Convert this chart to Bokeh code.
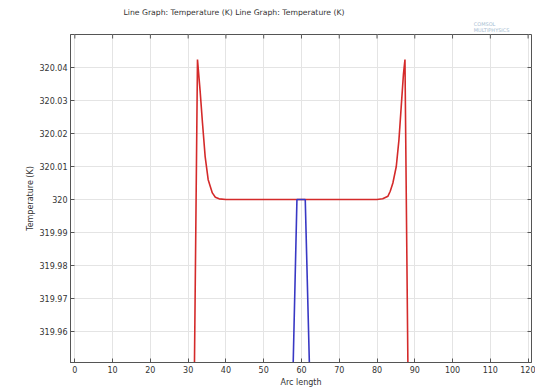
import math
from bokeh.plotting import figure
from bokeh.models import Range1d, FixedTicker, CustomJSTickFormatter, Title
from bokeh.embed import file_html
from bokeh.resources import INLINE

# Data
red_x = [31.0, 32.47, 33.16, 33.8, 34.5, 35.3, 36.4, 37.2, 38.2, 40.0, 50.0, 60.0, 70.0, 80.0,
         81.5, 82.9, 83.5, 84.2, 85.1, 85.8, 86.4, 87.0, 87.4, 89.0]
red_y = [319.873, 320.0424, 320.033, 320.0231, 320.013, 320.006, 320.002, 320.0007, 320.0002,
         320.0, 320.0, 320.0, 320.0, 320.0,
         320.0002, 320.001, 320.0025, 320.005, 320.01, 320.018, 320.028, 320.038, 320.0424, 319.852]
blue_x = [50.0, 58.8, 61.0, 70.0]
blue_y = [319.56, 320.0, 320.0, 319.59]

x_ticks = [0, 10, 20, 30, 40, 50, 60, 70, 80, 90, 100, 110, 120]
y_ticks = [319.96, 319.97, 319.98, 319.99, 320.0, 320.01, 320.02, 320.03, 320.04]

FONT = "DejaVu Sans"
TXT = "#333333"
EDGE = "#555555"

xr = Range1d(-1.15, 120.9)
yr = Range1d(319.9506, 320.05)

p = figure(width=535, height=389, output_backend="svg", toolbar_location=None,
           x_range=xr, y_range=yr,
           min_border_left=70, min_border_right=4, min_border_top=34, min_border_bottom=25,
           title=None)
p.background_fill_color = "white"
p.border_fill_color = "white"
p.outline_line_color = EDGE
p.outline_line_width = 1

fmt = CustomJSTickFormatter(code="return (Math.round(tick*100)/100).toString();")

for ax in p.xaxis:
    ax.ticker = FixedTicker(ticks=x_ticks)
    ax.axis_label = "Arc length"
for ax in p.yaxis:
    ax.ticker = FixedTicker(ticks=y_ticks)
    ax.formatter = fmt
    ax.axis_label = "Temperature (K)"

for ax in p.axis:
    ax.major_tick_in = 4
    ax.major_tick_out = 0
    ax.minor_tick_in = 0
    ax.minor_tick_out = 0
    ax.axis_line_color = EDGE
    ax.major_tick_line_color = EDGE
    ax.major_label_text_font = FONT
    ax.major_label_text_font_size = "8px"
    ax.major_label_text_color = TXT
    ax.axis_label_text_font = FONT
    ax.axis_label_text_font_size = "8px"
    ax.axis_label_text_font_style = "normal"
    ax.axis_label_text_color = TXT
    ax.major_label_standoff = 3
    ax.axis_label_standoff = 2

p.xgrid.ticker = FixedTicker(ticks=x_ticks)
p.ygrid.ticker = FixedTicker(ticks=y_ticks)
p.grid.grid_line_color = "#e4e4e4"
p.grid.grid_line_width = 1

# inward tick marks on the top and right edges (half of each dash is clipped by the frame)
p.scatter(x_ticks, [yr.end] * len(x_ticks), marker="dash", angle=math.pi / 2, size=8,
          line_color=EDGE, line_width=1)
p.scatter([xr.end] * len(y_ticks), y_ticks, marker="dash", size=8,
          line_color=EDGE, line_width=1)

p.line(red_x, red_y, line_color="#d42a2a", line_width=1.6)
p.line(blue_x, blue_y, line_color="#3838c4", line_width=1.6)

# logo nearest the frame, main title stacked directly above it
logo = Title(text="COMSOL\nMULTIPHYSICS", align="right", offset=22,
             text_font=FONT, text_font_size="5px", text_font_style="normal",
             text_color="#a8bdd2", text_line_height=1.0, standoff=4)
p.add_layout(logo, "above")

title = Title(text="Line Graph: Temperature (K) Line Graph: Temperature (K)", align="left",
              offset=53, text_font=FONT, text_font_size="7.7px", text_font_style="normal",
              text_color=TXT, standoff=0)
p.add_layout(title, "above")

open("out.html", "w").write(file_html(p, INLINE))
